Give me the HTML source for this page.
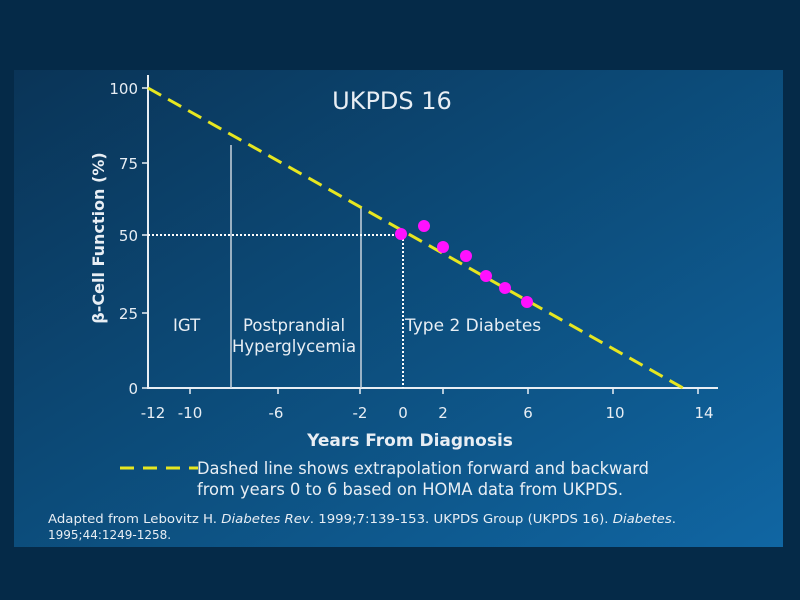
<!DOCTYPE html>
<html><head><meta charset="utf-8"><style>
body{margin:0;width:800px;height:600px;background:#052a48;overflow:hidden}
svg{display:block}
text{font-family:"DejaVu Sans","Liberation Sans",sans-serif;fill:#e8eef4}
</style></head><body>
<svg width="800" height="600" viewBox="0 0 800 600">
<defs>
<linearGradient id="g" x1="0" y1="0" x2="1" y2="1">
<stop offset="0" stop-color="#0a3457"/>
<stop offset="0.6" stop-color="#0d5283"/>
<stop offset="1" stop-color="#1066a3"/>
</linearGradient>
</defs>
<rect x="0" y="0" width="800" height="600" fill="#052a48"/>
<rect x="14" y="70" width="769" height="477" fill="url(#g)"/>
<g stroke="#e8eef4" stroke-width="2" fill="none">
<line x1="148" y1="75" x2="148" y2="389"/>
<line x1="147" y1="388" x2="718" y2="388"/>
</g>
<g stroke="#e8eef4" stroke-width="1.5">
<line x1="142" y1="88" x2="148" y2="88"/><line x1="142" y1="163" x2="148" y2="163"/>
<line x1="142" y1="235" x2="148" y2="235"/><line x1="142" y1="313" x2="148" y2="313"/>
<line x1="142" y1="388" x2="148" y2="388"/>
<line x1="190" y1="388" x2="190" y2="394"/><line x1="278" y1="388" x2="278" y2="394"/>
<line x1="360" y1="388" x2="360" y2="394"/><line x1="443" y1="388" x2="443" y2="394"/>
<line x1="528" y1="388" x2="528" y2="394"/><line x1="613" y1="388" x2="613" y2="394"/>
<line x1="698" y1="388" x2="698" y2="394"/>
</g>
<g font-size="15" text-anchor="end">
<text x="138" y="94">100</text><text x="138" y="169">75</text>
<text x="138" y="241">50</text><text x="138" y="319">25</text><text x="138" y="394">0</text>
</g>
<g font-size="15" text-anchor="middle">
<text x="153" y="418">-12</text><text x="190" y="418">-10</text><text x="276" y="418">-6</text>
<text x="360" y="418">-2</text><text x="403" y="418">0</text><text x="443" y="418">2</text>
<text x="528" y="418">6</text><text x="615" y="418">10</text><text x="704" y="418">14</text>
</g>
<text x="410" y="446" font-size="17" font-weight="bold" text-anchor="middle">Years From Diagnosis</text>
<text transform="translate(104,238) rotate(-90)" font-size="16" font-weight="bold" text-anchor="middle">β-Cell Function (%)</text>
<text x="392" y="109" font-size="24" text-anchor="middle">UKPDS 16</text>
<g stroke="#c9d4de" stroke-width="1.5">
<line x1="231" y1="145" x2="231" y2="388"/>
<line x1="361" y1="207" x2="361" y2="388"/>
</g>
<g stroke="#ffffff" stroke-width="2" stroke-dasharray="2,2">
<line x1="148" y1="235" x2="401" y2="235"/>
<line x1="403" y1="235" x2="403" y2="388"/>
</g>
<g font-size="16.5">
<text x="173" y="331">IGT</text>
<text x="243" y="331">Postprandial</text>
<text x="232" y="352">Hyperglycemia</text>
<text x="405" y="331" font-size="17">Type 2 Diabetes</text>
</g>
<line x1="148" y1="88" x2="683" y2="388" stroke="#e6e620" stroke-width="3" stroke-dasharray="15,8"/>
<g fill="#ff10ff">
<circle cx="401" cy="234" r="6"/><circle cx="424" cy="226" r="6"/><circle cx="443" cy="247" r="6"/>
<circle cx="466" cy="256" r="6"/><circle cx="486" cy="276" r="6"/><circle cx="505" cy="288" r="6"/>
<circle cx="527" cy="302" r="6"/>
</g>
<line x1="120" y1="468" x2="198" y2="468" stroke="#e6e620" stroke-width="3" stroke-dasharray="14,9"/>
<text x="197" y="474" font-size="16.5" textLength="452" lengthAdjust="spacingAndGlyphs">Dashed line shows extrapolation forward and backward</text>
<text x="197" y="495" font-size="16.5" textLength="426" lengthAdjust="spacingAndGlyphs">from years 0 to 6 based on HOMA data from UKPDS.</text>
<text x="48" y="523" font-size="12" textLength="628" lengthAdjust="spacingAndGlyphs">Adapted from Lebovitz H. <tspan font-style="italic">Diabetes Rev</tspan>. 1999;7:139-153. UKPDS Group (UKPDS 16). <tspan font-style="italic">Diabetes</tspan>.</text>
<text x="48" y="539" font-size="12">1995;44:1249-1258.</text>
</svg>
</body></html>
